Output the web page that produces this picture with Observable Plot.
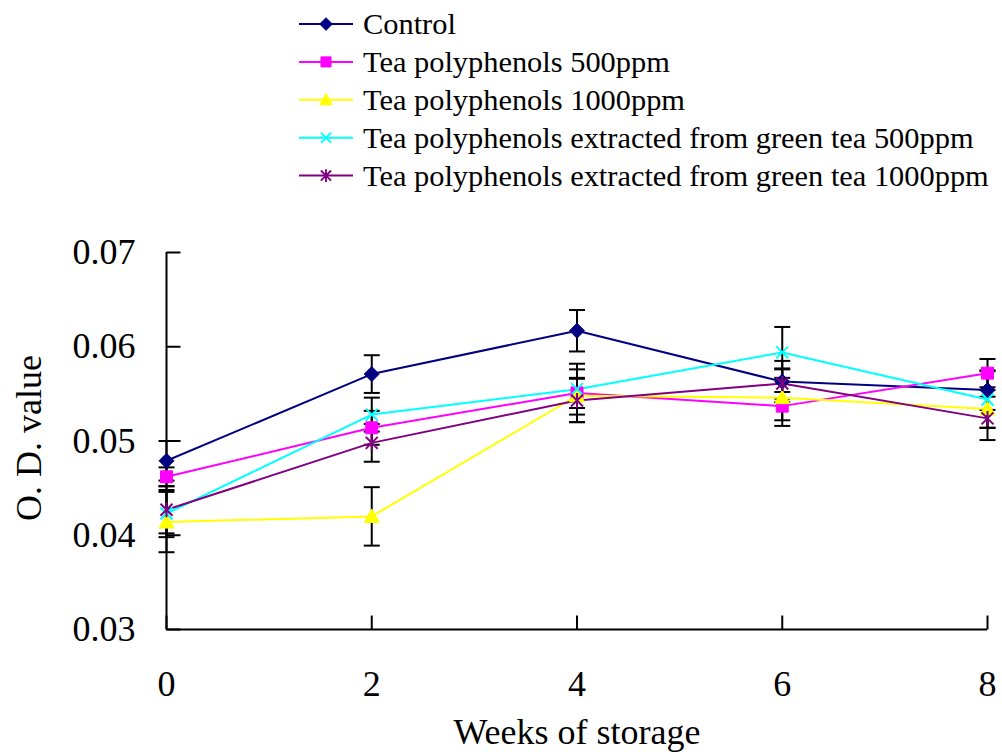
<!DOCTYPE html>
<html>
<head>
<meta charset="utf-8">
<script src="https://cdn.jsdelivr.net/npm/d3@7"></script>
<script src="https://cdn.jsdelivr.net/npm/@observablehq/plot@0.6"></script>
<style>
  html, body { margin: 0; padding: 0; background: #fff; }
  #chart { position: relative; width: 1002px; height: 752px; color: #000; }
  #legend { position: absolute; left: 0; top: 0; }
</style>
</head>
<body>
<div id="chart"></div>
<script>
// Storage time (weeks) and O.D. readings per treatment
const weeks = [0, 2, 4, 6, 8];
const seriesNames = [
  "Control",
  "Tea polyphenols 500ppm",
  "Tea polyphenols 1000ppm",
  "Tea polyphenols extracted from green tea 500ppm",
  "Tea polyphenols extracted from green tea 1000ppm"
];
const seriesColors = ["#000080", "#FF00FF", "#FFFF00", "#00FFFF", "#800080"];

const controlOD = [0.0479, 0.0571, 0.0617, 0.0563, 0.0554];
const tp500OD   = [0.0462, 0.0514, 0.0551, 0.0537, 0.0572];
const tp1000OD  = [0.0414, 0.0420, 0.0548, 0.0546, 0.0534];
const gt500OD   = [0.0423, 0.0528, 0.0555, 0.0594, 0.0544];
const gt1000OD  = [0.0427, 0.0498, 0.0543, 0.0561, 0.0524];

// Standard deviations (error bars)
const controlErr = [0.0021, 0.0020, 0.0022, 0.0022, 0.0021];
const tp500Err   = [0.0010, 0.0018, 0.0016, 0.0015, 0.0015];
const tp1000Err  = [0.0032, 0.0031, 0.0028, 0.0030, 0.0020];
const gt500Err   = [0.0025, 0.0018, 0.0027, 0.0027, 0.0030];
const gt1000Err  = [0.0025, 0.0020, 0.0023, 0.0016, 0.0023];

const xTicks = [0, 2, 4, 6, 8];
const yTicks = [0.03, 0.04, 0.05, 0.06, 0.07];
const xLabel = "Weeks of storage";
const yLabel = "O. D. value";

const seriesValues = [controlOD, tp500OD, tp1000OD, gt500OD, gt1000OD];
const seriesErrors = [controlErr, tp500Err, tp1000Err, gt500Err, gt1000Err];

const serifFont = "Liberation Serif, DejaVu Serif";

// Marker shapes (fixed pixel sizes)
const diamondSym = {draw(c) { c.moveTo(0, -7.5); c.lineTo(7.5, 0); c.lineTo(0, 7.5); c.lineTo(-7.5, 0); c.closePath(); }};
const squareSym = {draw(c) { c.moveTo(-6, -6); c.lineTo(6, -6); c.lineTo(6, 6); c.lineTo(-6, 6); c.closePath(); }};
const triangleSym = {draw(c) { c.moveTo(0, -7.5); c.lineTo(7.5, 6); c.lineTo(-7.5, 6); c.closePath(); }};
const timesSym = {draw(c) { c.moveTo(-6, -6); c.lineTo(6, 6); c.moveTo(-6, 6); c.lineTo(6, -6); }};
const starSym = {draw(c) { c.moveTo(-6, -6); c.lineTo(6, 6); c.moveTo(-6, 6); c.lineTo(6, -6); c.moveTo(0, -7.5); c.lineTo(0, 7.5); }};
const capSym = {draw(c) { c.moveTo(-8, 0); c.lineTo(8, 0); }};
const yTickSym = {draw(c) { c.moveTo(0, 0); c.lineTo(14, 0); }};
const xTickSym = {draw(c) { c.moveTo(0, 0); c.lineTo(0, -14); }};

const seriesSymbols = [diamondSym, squareSym, triangleSym, timesSym, starSym];
const filledSymbol = [true, true, true, false, false];

// Long-format table built from the arrays above
const rows = [];
seriesNames.forEach((name, i) => {
  weeks.forEach((w, j) => {
    const v = seriesValues[i][j], e = seriesErrors[i][j];
    rows.push({series: name, idx: i, week: w, od: v, lo: v - e, hi: v + e});
  });
});

const marks = [];

// Error bars
marks.push(Plot.ruleX(rows, {x: "week", y1: "lo", y2: "hi", stroke: "#000", strokeWidth: 2}));
marks.push(Plot.dot(rows, {x: "week", y: "lo", symbol: capSym, stroke: "#000", fill: "none", strokeWidth: 2}));
marks.push(Plot.dot(rows, {x: "week", y: "hi", symbol: capSym, stroke: "#000", fill: "none", strokeWidth: 2}));

// Axes lines and inward ticks
marks.push(Plot.ruleX([0], {y1: 0.03, y2: 0.07, stroke: "#000", strokeWidth: 2}));
marks.push(Plot.ruleY([0.03], {x1: 0, x2: 8, stroke: "#000", strokeWidth: 2}));
marks.push(Plot.dot(yTicks, {x: () => 0, y: d => d, symbol: yTickSym, stroke: "#000", fill: "none", strokeWidth: 2}));
marks.push(Plot.dot(xTicks, {x: d => d, y: () => 0.03, symbol: xTickSym, stroke: "#000", fill: "none", strokeWidth: 2}));

// Series lines and markers
seriesNames.forEach((name, i) => {
  const data = rows.filter(r => r.idx === i);
  marks.push(Plot.line(data, {x: "week", y: "od", stroke: seriesColors[i], strokeWidth: 2}));
});
seriesNames.forEach((name, i) => {
  const data = rows.filter(r => r.idx === i);
  marks.push(Plot.dot(data, {
    x: "week", y: "od", symbol: seriesSymbols[i],
    fill: filledSymbol[i] ? seriesColors[i] : "none",
    stroke: seriesColors[i], strokeWidth: filledSymbol[i] ? 1 : 2
  }));
});

// Tick labels
marks.push(Plot.axisY(yTicks, {tickSize: 0, tickPadding: 31, tickFormat: d3.format(".2f"), label: null, fontSize: 36, fontFamily: serifFont}));
marks.push(Plot.axisX(xTicks, {tickSize: 0, tickPadding: 41, tickFormat: d3.format("d"), label: null, fontSize: 36, fontFamily: serifFont}));

// Axis titles
marks.push(Plot.text([xLabel], {frameAnchor: "bottom", lineAnchor: "middle", textAnchor: "middle", dy: 103, fontSize: 36, fill: "#000", fontFamily: serifFont}));
marks.push(Plot.text([yLabel], {frameAnchor: "left", lineAnchor: "middle", textAnchor: "middle", dx: -137, dy: -3, rotate: -90, fontSize: 36, fill: "#000", fontFamily: serifFont}));

const chart = Plot.plot({
  width: 1002,
  height: 752,
  marginLeft: 166,
  marginRight: 15,
  marginTop: 252,
  marginBottom: 123,
  x: {domain: [0, 8]},
  y: {domain: [0.03, 0.07]},
  style: {fontFamily: serifFont, fontSize: "36px", color: "#000", background: "#fff", overflow: "visible"},
  marks
});
const host = document.getElementById("chart");
host.appendChild(chart);

// Legend (line + marker + label per series)
const legend = d3.select(host).append("svg")
  .attr("id", "legend").attr("width", 1002).attr("height", 200);
seriesNames.forEach((name, i) => {
  const cy = 24 + i * 37.9;
  const g = legend.append("g");
  g.append("line").attr("x1", 299).attr("x2", 353).attr("y1", cy).attr("y2", cy)
    .attr("stroke", seriesColors[i]).attr("stroke-width", 2);
  const p = d3.path();
  seriesSymbols[i].draw(p);
  g.append("path").attr("d", p.toString()).attr("transform", `translate(326,${cy}) scale(0.85)`)
    .attr("fill", filledSymbol[i] ? seriesColors[i] : "none")
    .attr("stroke", seriesColors[i]).attr("stroke-width", filledSymbol[i] ? 1 : 2.2);
  g.append("text").attr("x", 363).attr("y", cy + 10)
    .attr("font-family", serifFont).attr("font-size", 30.4)
    .attr("fill", "#000").text(name);
});
</script>
</body>
</html>
